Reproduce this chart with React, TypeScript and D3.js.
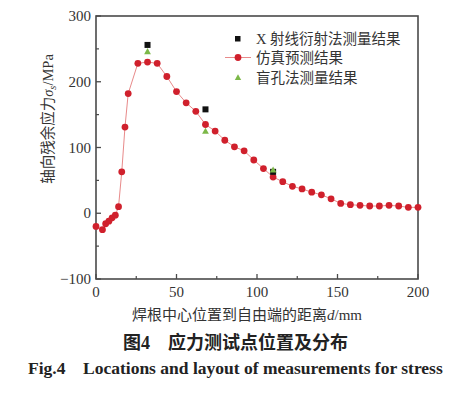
import React from 'react';
import { scaleLinear, line } from 'd3';

// simulation (仿真预测结果)
const simD = [0, 4, 6, 8, 10, 12, 14, 16, 18, 20, 26, 32, 38, 44, 50, 56, 62, 68, 74, 80, 86, 92, 98, 104, 110, 116, 122, 128, 134, 140, 146, 152, 158, 164, 170, 176, 182, 188, 194, 200];
const simV = [-20, -25, -16, -12, -7, -3, 10, 63, 131, 182, 228, 230, 228, 208, 185, 168, 155, 135, 125, 111, 101, 95, 81, 68, 55, 48, 41, 37, 32, 28, 22, 15, 13, 12, 11, 11, 12, 11, 9, 9];
// X-ray diffraction
const xrdD = [32, 68, 110];
const xrdV = [256, 158, 63];
// blind hole
const holeD = [32, 68, 110];
const holeV = [246, 125, 66];

const xMajor = [0, 50, 100, 150, 200];
const xMinor = [25, 75, 125, 175];
const yMajor = [300, 200, 100, 0, -100];
const yMinor = [250, 150, 50, -50];

const W = 469;
const H = 394;
const box = { left: 96, right: 418, top: 16, bottom: 279 };
const axisCol = '#4a4a4a';
const txtCol = '#333';
const serif = '"Liberation Serif", "DejaVu Serif", serif';
const cjk = '"Noto Sans CJK SC", sans-serif';

export default function App() {
  const x = scaleLinear().domain([0, 200]).range([box.left, box.right]);
  const y = scaleLinear().domain([-100, 300]).range([box.bottom, box.top]);
  const path = line<number>()
    .x((d, i) => x(simD[i]))
    .y((d) => y(d))(simV);

  const tri = (cx: number, cy: number, s: number) =>
    `M${cx},${cy - s}L${cx + s},${cy + s * 0.8}L${cx - s},${cy + s * 0.8}Z`;

  return (
    <svg width={W} height={H} style={{ position: 'absolute', left: 0, top: 0, background: '#fff' }}>
      {/* frame */}
      <rect x={box.left} y={box.top} width={box.right - box.left} height={box.bottom - box.top}
        fill="none" stroke={axisCol} strokeWidth={1.6} />
      {/* x ticks */}
      {xMajor.map((t) => (
        <g key={'xm' + t}>
          <line x1={x(t)} x2={x(t)} y1={box.bottom} y2={box.bottom - 5} stroke={axisCol} strokeWidth={1.3} />
          <text x={x(t)} y={297} textAnchor="middle" fontFamily={serif} fontSize={15} fill={txtCol}>{t}</text>
        </g>
      ))}
      {xMinor.map((t) => (
        <line key={'xn' + t} x1={x(t)} x2={x(t)} y1={box.bottom} y2={box.bottom - 3} stroke={axisCol} strokeWidth={1.2} />
      ))}
      {/* y ticks */}
      {yMajor.map((t) => (
        <g key={'ym' + t}>
          <line x1={box.left} x2={box.left + 5} y1={y(t)} y2={y(t)} stroke={axisCol} strokeWidth={1.3} />
          <text x={91} y={y(t) + 5} textAnchor="end" fontFamily={serif} fontSize={15} fill={txtCol}>
            {t < 0 ? '\u2212' + Math.abs(t) : t}
          </text>
        </g>
      ))}
      {yMinor.map((t) => (
        <line key={'yn' + t} x1={box.left} x2={box.left + 3} y1={y(t)} y2={y(t)} stroke={axisCol} strokeWidth={1.2} />
      ))}

      {/* simulation line + markers */}
      <path d={path ?? ''} fill="none" stroke="#e88a8a" strokeWidth={1} />
      {simV.map((v, i) => (
        <circle key={'s' + i} cx={x(simD[i])} cy={y(v)} r={3.4} fill="#d0202c" />
      ))}
      {xrdV.map((v, i) => (
        <rect key={'x' + i} x={x(xrdD[i]) - 3} y={y(v) - 3} width={6} height={6} fill="#111" />
      ))}
      {holeV.map((v, i) => (
        <path key={'h' + i} d={tri(x(holeD[i]), y(v), 3.4)} fill="#7cb848" />
      ))}

      {/* legend */}
      <rect x={235} y={36} width={5.5} height={5.5} fill="#111" />
      <text x={256} y={43.5} fontFamily={cjk} fontSize={14.5} fill={txtCol}>
        <tspan fontFamily={serif}>X </tspan>射线衍射法测量结果
      </text>
      <line x1={225} x2={251} y1={57.5} y2={57.5} stroke="#e88a8a" strokeWidth={1} />
      <circle cx={238} cy={57.5} r={3.4} fill="#d0202c" />
      <text x={256} y={63} fontFamily={cjk} fontSize={14.5} fill={txtCol}>仿真预测结果</text>
      <path d={tri(238, 77.5, 3.2)} fill="#7cb848" />
      <text x={256} y={83} fontFamily={cjk} fontSize={14.5} fill={txtCol}>盲孔法测量结果</text>

      {/* axis titles */}
      <text transform="translate(53,119) rotate(-90)" textAnchor="middle" fontFamily={cjk} fontSize={14.5} fill={txtCol}>
        轴向残余应力<tspan fontFamily={serif} fontStyle="italic">σ</tspan>
        <tspan fontFamily={serif} fontStyle="italic" fontSize={10.5} dy={3}>s</tspan>
        <tspan fontFamily={serif} dy={-3}>/MPa</tspan>
      </text>
      <text x={247} y={320} textAnchor="middle" fontFamily={cjk} fontSize={15} fill={txtCol}>
        焊根中心位置到自由端的距离<tspan fontFamily={serif} fontStyle="italic">d</tspan>
        <tspan fontFamily={serif}>/mm</tspan>
      </text>

      {/* caption */}
      <text x={123} y={349} fontFamily={cjk} fontSize={18} fontWeight="bold" fill="#222">
        图<tspan fontFamily={serif}>4</tspan><tspan x={168}>应力测试点位置及分布</tspan>
      </text>
      <text x={28} y={374} fontFamily={serif} fontSize={17.5} fontWeight="bold" fill="#222">
        Fig.4<tspan x={83}>Locations and layout of measurements for stress</tspan>
      </text>
    </svg>
  );
}
